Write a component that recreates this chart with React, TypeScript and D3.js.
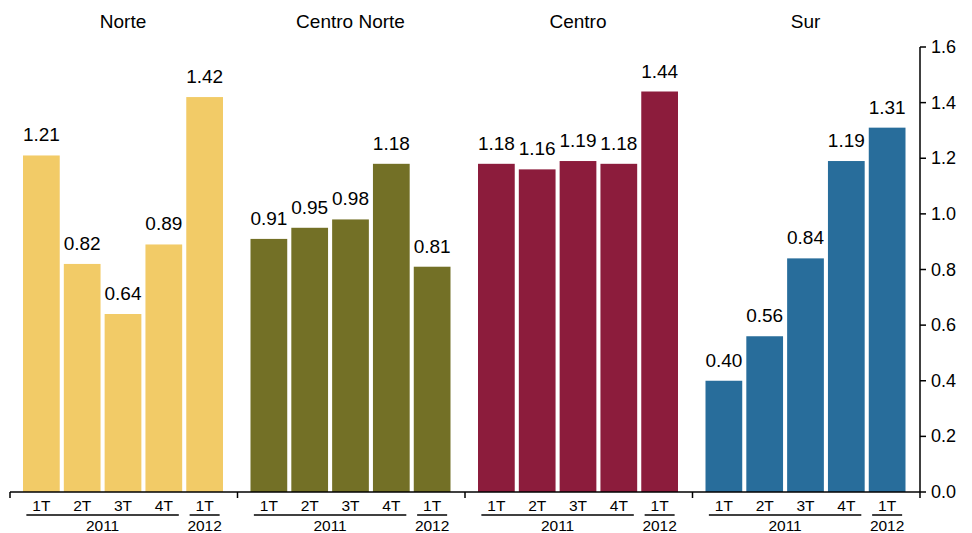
import * as d3 from 'd3';

const regions = ['Norte', 'Centro Norte', 'Centro', 'Sur'];
const colors = ['#F2CB67', '#737026', '#8C1C3C', '#286D9B'];
const quarters = ['1T', '2T', '3T', '4T', '1T'];
const values = [
  [1.21, 0.82, 0.64, 0.89, 1.42],
  [0.91, 0.95, 0.98, 1.18, 0.81],
  [1.18, 1.16, 1.19, 1.18, 1.44],
  [0.40, 0.56, 0.84, 1.19, 1.31],
];
const yTicks = [0, 0.2, 0.4, 0.6, 0.8, 1.0, 1.2, 1.4, 1.6];

export default function App() {
  const W = 972, H = 533;
  const left = 10, right = 920, top = 47, bottom = 492;
  const y = d3.scaleLinear().domain([0, 1.6]).range([bottom, top]);
  const gx = d3.scaleBand<number>().domain(d3.range(4)).range([left, right]).padding(0);
  const gw = gx.bandwidth();
  const bx = d3.scaleBand<number>().domain(d3.range(5)).range([13, 213]).paddingInner(0.1).paddingOuter(0);
  const font = 'Arial, "Liberation Sans", sans-serif';
  return (
    <svg width={W} height={H} style={{ position: 'absolute', left: 0, top: 0 }} fontFamily={font}>
      <rect width={W} height={H} fill="#fff" />
      {regions.map((r, gi) => {
        const g0 = gx(gi)!;
        const centerOf = (i: number) => g0 + bx(i)! + bx.bandwidth() / 2;
        return (
          <g key={r}>
            <text x={g0 + 113} y={28} textAnchor="middle" fontSize={19}>{r}</text>
            {values[gi].map((v, i) => (
              <g key={i}>
                <rect x={g0 + bx(i)!} y={y(v)} width={bx.bandwidth()} height={bottom - y(v)} fill={colors[gi]} />
                <text x={centerOf(i)} y={y(v) - 14} textAnchor="middle" fontSize={19}>{v.toFixed(2)}</text>
                <text x={centerOf(i)} y={511} textAnchor="middle" fontSize={15.5}>{quarters[i]}</text>
              </g>
            ))}
            <line x1={centerOf(0) - 15} x2={centerOf(3) + 15} y1={515} y2={515} stroke="#000" strokeWidth={1.5} />
            <line x1={centerOf(4) - 15} x2={centerOf(4) + 15} y1={515} y2={515} stroke="#000" strokeWidth={1.5} />
            <text x={(centerOf(0) + centerOf(3)) / 2} y={531} textAnchor="middle" fontSize={15.5}>2011</text>
            <text x={centerOf(4)} y={531} textAnchor="middle" fontSize={15.5}>2012</text>
          </g>
        );
      })}
      <line x1={left} x2={right} y1={bottom} y2={bottom} stroke="#000" strokeWidth={1.5} />
      {d3.range(5).map(i => {
        const x = left + i * gw;
        return <line key={i} x1={x} x2={x} y1={bottom} y2={bottom + 6} stroke="#000" strokeWidth={1.5} />;
      })}
      <line x1={right} x2={right} y1={top} y2={bottom} stroke="#000" strokeWidth={1.5} />
      {yTicks.map(t => (
        <g key={t}>
          <line x1={right} x2={right + 6} y1={y(t)} y2={y(t)} stroke="#000" strokeWidth={1.5} />
          <text x={right + 11} y={y(t) + 6} fontSize={18}>{t.toFixed(1)}</text>
        </g>
      ))}
    </svg>
  );
}
